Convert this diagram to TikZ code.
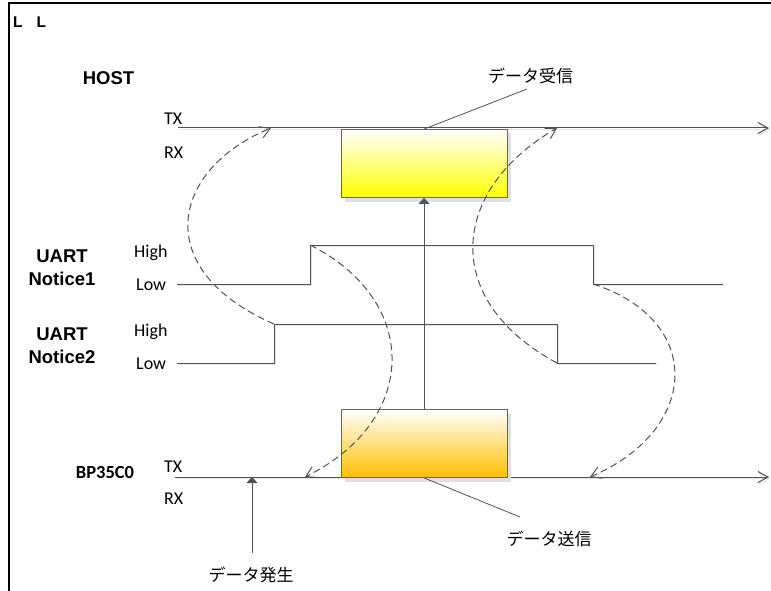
\documentclass[tikz,border=0pt]{standalone}
\usepackage{fontspec}
\setmainfont{Liberation Sans}
\newfontfamily\califont{Carlito}
\newfontfamily\jpfont{Noto Sans CJK JP}
\usetikzlibrary{arrows.meta,shadows}
\colorlet{linegray}{black!68}
\definecolor{amber}{RGB}{255,192,0}

\begin{document}
\begin{tikzpicture}[x=1pt, y=-1pt,
		sig/.style={draw=linegray, line width=1pt, preaction={draw=black!10, line width=1.5pt, transform canvas={shift={(1.5pt,-1.5pt)}}}},
		bus/.style={sig, -{Straight Barb[length=10pt, width=11pt]}},
		hop/.style={draw=linegray, line width=1pt, dash pattern=on 7pt off 4pt, -{Straight Barb[length=10pt, width=12pt]}},
		push/.style={draw=linegray, line width=1pt, -{Triangle[length=6pt, width=11pt]}},
		leader/.style={draw=linegray, line width=0.8pt},
		rowname/.style={font=\fontsize{18.5}{23}\selectfont\bfseries, align=center, inner sep=0pt},
		sigtag/.style={font=\califont\fontsize{18}{20}\selectfont, anchor=base west, inner sep=0pt},
		jp/.style={font=\jpfont\fontsize{17}{20}\selectfont, inner sep=0pt},
		databox/.style={draw=black!60, line width=0.8pt, minimum width=166pt, minimum height=68pt, inner sep=0pt, drop shadow={shadow xshift=4pt, shadow yshift=-4pt, fill=black!12, opacity=1}},
	]
	\useasboundingbox (0,0) rectangle (771,591);
	\draw[line width=2.2pt] (9,591) -- (9,3) -- (771,3);
	\node[font=\fontsize{15.5}{17}\selectfont\bfseries, anchor=west, inner sep=0pt] (ll) at (13,22) {L\hspace{14pt}L};

	% host side
	\node[rowname] (host) at (108.5,78) {HOST};
	\node[sigtag] (htxtag) at (164,125) {TX};
	\node[sigtag] (hrxtag) at (164,158) {RX};
	\coordinate (htx) at (178,128);
	\coordinate (htxend) at (769,128);
	\draw[bus] (htx) -- (htxend);
	\node[databox, top color=white, bottom color=yellow] (hostbox) at (424,163.5) {};
	\node[jp] (rxlabel) at (530.5,76) {データ受信};
	\coordinate (rxfoot) at (527,89);
	\draw[leader] (hostbox.north) -- (rxfoot);

	% notice lines
	\node[rowname] (n1) at (62,267.5) {UART\\Notice1};
	\node[sigtag] (n1hi) at (134,257) {High};
	\node[sigtag] (n1lo) at (136,290) {Low};
	\draw[sig] (177,284) -- (310,284) -- (310,245) coordinate (n1up) -- (593,245) -- (593,284) coordinate (n1down) -- (723,284);

	\node[rowname] (n2) at (62,345.8) {UART\\Notice2};
	\node[sigtag] (n2hi) at (134,336) {High};
	\node[sigtag] (n2lo) at (136,369) {Low};
	\draw[sig] (177,363) -- (274,363) -- (274,324) coordinate (n2up) -- (557,324) -- (557,363) coordinate (n2down) -- (656,363);

	% BP35C0 side
	\node[font=\califont\fontsize{18.5}{20}\selectfont\bfseries, inner sep=0pt] (bp) at (105,472.5) {BP35C0};
	\node[sigtag] (btxtag) at (164,472) {TX};
	\node[sigtag] (brxtag) at (164,504) {RX};
	\coordinate (btx) at (175,477);
	\coordinate (btxend) at (769,477);
	\draw[bus] (btx) -- (btxend);
	\node[databox, top color=white, bottom color=amber] (bpbox) at (424,443.5) {};
	\draw[push] (bpbox.north) -- (hostbox.south);

	\node[jp] (genlabel) at (251,575) {データ発生};
	\coordinate (genfoot) at (252,553);
	\coordinate (genhit) at (252,477);
	\draw[push] (genfoot) -- (genhit);

	\node[jp] (txlabel) at (549,539) {データ送信};
	\coordinate (txfoot) at (520,517);
	\draw[leader] (bpbox.south) -- (txfoot);

	% hand-over curves
	\coordinate (hin1) at (271,128);
	\coordinate (hin2) at (557,128);
	\coordinate (bin1) at (305,477);
	\coordinate (bin2) at (590,477);
	\draw[hop] (n2up) .. controls (150,270) and (170,170) .. (hin1);
	\draw[hop] (n1up) .. controls (420,300) and (420,420) .. (bin1);
	\draw[hop] (n2down) .. controls (440,300) and (450,190) .. (hin2);
	\draw[hop] (n1down) .. controls (705,320) and (700,430) .. (bin2);
\end{tikzpicture}
\end{document}
